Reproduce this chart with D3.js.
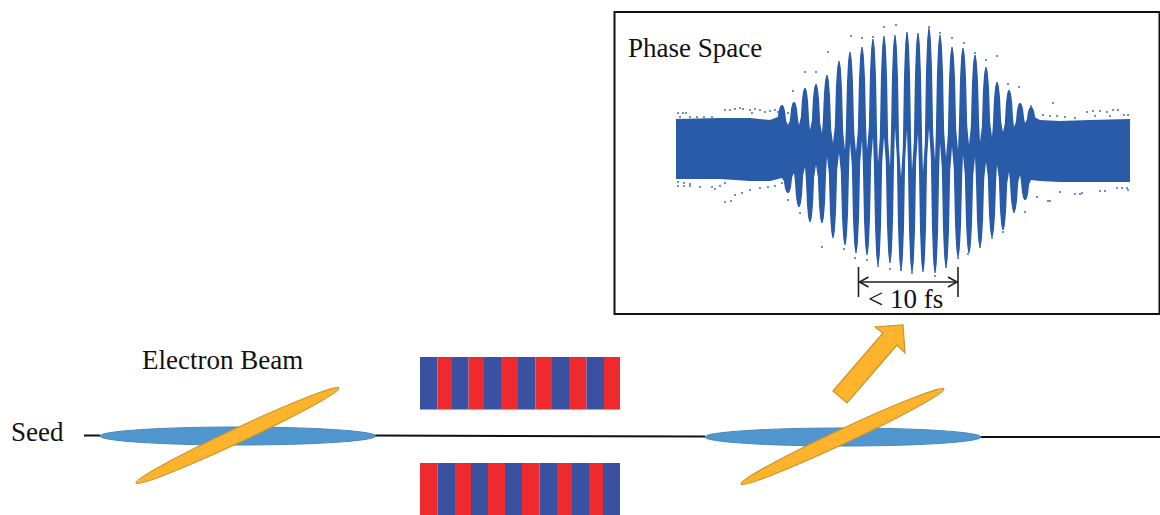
<!DOCTYPE html>
<html>
<head>
<meta charset="utf-8">
<script src="https://cdn.jsdelivr.net/npm/d3@7"></script>
<style>
  html, body { margin: 0; padding: 0; background: #fff; }
  svg { display: block; }
  text { font-family: "Liberation Serif", serif; font-size: 27px; fill: #111; }
</style>
</head>
<body>
<svg width="1160" height="515"></svg>
<script>
// phase space, time in fs, energy in arbitrary units
const upperTipT = [-12.1,-10.9,-9.8,-8.7,-7.6,-6.4,-5.3,-4.1,-3.0,-1.9,-0.8,0.4,1.5,2.6,3.7,4.9,6.0,7.2,8.3,9.4,10.6,11.7,12.8];
const upperTipE = [2.25,2.4,3.1,3.3,3.75,4.45,4.9,5.15,5.55,5.7,5.75,5.9,5.85,6.1,5.75,5.15,5.1,4.75,4.15,3.4,3.0,2.35,2.15];
const lowerTipT = [-11.5,-10.4,-9.3,-8.1,-7.0,-5.8,-4.7,-3.6,-2.5,-1.3,-0.2,0.9,2.0,3.2,4.3,5.5,6.6,7.7,8.9,10.0,11.1,12.2];
const lowerTipE = [-2.15,-2.85,-3.6,-3.65,-4.4,-4.75,-5.15,-5.25,-5.75,-5.65,-6.0,-6.1,-6.1,-6.15,-5.85,-5.35,-5.15,-4.85,-4.35,-4.0,-3.1,-2.5];
// gaps between the spikes, the top ones sit under lowerTipT, the bottom ones under upperTipT
const topGapE = [1.25,1.25,1.0,0.85,0.35,0,-0.1,0,-0.65,-0.85,-1.35,-1.0,-1.1,-0.5,-0.35,0,0.25,0.4,0.65,0.9,1.15,1.35];
const bottomGapE = [-1.4,-1.15,-0.85,-0.75,-0.35,-0.15,0.35,0.5,0.65,0.65,1.1,1.0,0.85,1.1,0.35,0.15,-0.25,-0.35,-0.6,-0.75,-1.1,-1.25,-1.5];
// flat part of the beam on both sides
const bandLeftT = [-22.7,-18.3,-15.3,-13.3];
const bandLeftTop = [1.55,1.6,1.6,1.5];
const bandLeftBottom = [-1.45,-1.45,-1.55,-1.55];
const bandRightT = [13.7,15.7,18.7,22.7];
const bandRightTop = [1.5,1.45,1.5,1.55];
const bandRightBottom = [-1.55,-1.6,-1.6,-1.6];
// stray particles outside of the solid shape
const strayDots = [
  [-11.0,2.95],[-9.8,3.9],[-8.7,3.9],[-7.5,4.9],[-5.2,5.7],[-4.1,5.6],[-3.0,5.65],[-1.9,6.15],[-0.7,6.25],[2.6,6.15],
  [3.7,5.85],[4.9,5.6],[6.1,5.35],[7.2,4.85],[8.3,4.5],[9.4,4.7],[10.5,3.3],[11.6,3.15],[12.8,2.2],[15.0,2.35],
  [-22.5,1.85],[-22,1.85],[-21.7,1.85],[-22.3,1.65],[-21.3,1.65],[-20.6,1.65],[-19.9,1.65],[-19.1,1.65],[-17.8,2],[-17.3,2],
  [-16.8,2.05],[-16.3,2.1],[-16,2.05],[-15.3,2],[-14.8,2.05],[-14.3,2],[-15.1,1.85],[-13.8,1.9],[-13.3,1.95],[-12.8,2],[-12.5,1.9],[-11.5,1.85],
  [14,1.75],[14.7,1.7],[15.4,1.7],[16.2,1.65],[17.2,1.6],[18.4,1.9],[19,1.95],[19.7,1.95],[20.4,1.9],[21,2],[21.5,2],[22.1,1.75],[22.5,1.75],[20.7,1.7],[19.2,1.7],
  [-22.5,-1.6],[-21.9,-1.65],[-21.3,-1.7],[-22.5,-1.8],[-21.9,-1.8],[-21.3,-1.8],[-20.3,-1.85],[-19.1,-1.85],[-18.8,-1.95],[-18.3,-1.8],[-17.8,-1.65],
  [-17.8,-2.6],[-17.2,-2.55],[-16.8,-2.25],[-16.1,-2.15],[-15.3,-2],[-14.3,-1.9],[-13.5,-1.85],[-12.8,-1.8],[-12.1,-1.65],[-11.5,-2.5],[-10.3,-3.15],
  [-8.1,-4.85],[-5.9,-4.95],[-4.8,-5.4],[-3.6,-5.5],[-2.5,-5.8],[-1.3,-5.95],[-0.2,-6],[0.9,-6.15],[3.2,-6.3],[4.3,-5.85],[5.5,-5.4],[6.5,-5.2],
  [7.7,-4.85],[8.9,-4.4],[10,-4.1],[11.1,-3.1],[12.2,-3.1],[13.4,-2.35],[14.5,-2.55],[14.7,-2.55],[15.7,-2.1],[17.2,-2.2],[17.7,-2.2],[17.9,-2.15],
  [19.7,-2.05],[20.2,-2.05],[21.4,-1.9],[21.9,-1.9],[22.4,-1.9],[22.5,-2]
];
const bracketT = [-4.45, 5.5];

// undulator stripes, edges along the beamline
const topMagnetEdges = [420,437.5,452,468.6,484,501,518,535.5,552,569,586.5,604,620];
const bottomMagnetEdges = [420,437.5,455,471,488,505,522,539.5,557,572,589,603,620];
const beamLineX = [[84,100],[375,705],[981,1160]];
const beamLineY = [[435.5,435.5],[435.5,436.5],[437,437]];
const electronX = [[100,375.5],[705,981]];
const electronY = [436,437];
const seedTails = [[136,483],[741,484]];
const seedHeads = [[339,388],[944,389]];
const arrowOutline = [[833,391],[883,333],[875,327],[903,325],[905,353],[897,345],[847,403]];

const svg = d3.select('svg');
const width = +svg.attr('width');
const height = +svg.attr('height');

const orange = '#fdb32b', orangeEdge = '#c9952f';
const blue = '#3a50a0', red = '#ee2a2e';

const xPage = d3.scaleLinear().domain([0, 1160]).range([0, width]);
const yPage = d3.scaleLinear().domain([0, 515]).range([0, height]);

// beam lines first so the ellipses cover the ends
beamLineX.forEach((xs, i) => {
    svg.append('line')
        .attr('x1', xPage(xs[0])).attr('x2', xPage(xs[1]))
        .attr('y1', yPage(beamLineY[i][0])).attr('y2', yPage(beamLineY[i][1]))
        .attr('stroke', '#111').attr('stroke-width', 2);
});

electronX.forEach((xs, i) => {
    svg.append('ellipse')
        .attr('cx', xPage((xs[0] + xs[1]) / 2))
        .attr('cy', yPage(electronY[i]))
        .attr('rx', xPage((xs[1] - xs[0]) / 2))
        .attr('ry', yPage(9))
        .attr('fill', '#5097cf')
        .attr('stroke', '#4a86b8')
        .attr('stroke-width', 1);
});

seedTails.forEach((tail, i) => {
    const head = seedHeads[i];
    const cx = xPage((tail[0] + head[0]) / 2);
    const cy = yPage((tail[1] + head[1]) / 2);
    const dx = xPage(head[0]) - xPage(tail[0]);
    const dy = yPage(head[1]) - yPage(tail[1]);
    svg.append('ellipse')
        .attr('cx', cx).attr('cy', cy)
        .attr('rx', Math.hypot(dx, dy) / 2)
        .attr('ry', 7.2)
        .attr('transform', `rotate(${Math.atan2(dy, dx) * 180 / Math.PI} ${cx} ${cy})`)
        .attr('fill', orange)
        .attr('stroke', orangeEdge)
        .attr('stroke-width', 1.2);
});

svg.append('polygon')
    .attr('points', arrowOutline.map(p => [xPage(p[0]), yPage(p[1])].join(',')).join(' '))
    .attr('fill', orange)
    .attr('stroke', orangeEdge)
    .attr('stroke-width', 1.2);

const drawMagnet = (edges, top, bottom, firstColor, secondColor) => {
    svg.append('g').selectAll('rect').data(d3.pairs(edges))
        .enter().append('rect')
        .attr('x', d => xPage(d[0]))
        .attr('width', d => xPage(d[1]) - xPage(d[0]))
        .attr('y', yPage(top))
        .attr('height', yPage(bottom) - yPage(top))
        .attr('fill', (d, i) => i % 2 === 0 ? firstColor : secondColor);
};
drawMagnet(topMagnetEdges, 357, 409.5, blue, red);
drawMagnet(bottomMagnetEdges, 463, 515, red, blue);

// inset
svg.append('rect')
    .attr('x', xPage(614.5)).attr('y', yPage(12))
    .attr('width', xPage(545)).attr('height', yPage(302))
    .attr('fill', '#fff')
    .attr('stroke', '#111')
    .attr('stroke-width', 2);

const xTime = d3.scaleLinear().domain([-22.7, 22.7]).range([xPage(676), xPage(1130)]);
const yEnergy = d3.scaleLinear().domain([-6, 6]).range([yPage(270), yPage(30)]);

// spike flank: [share of the way down to the gap, half width in fs]
const spikeFlank = [[0.8, 0.42], [0.3, 0.3], [0.08, 0.18], [0, 0.06]];

// one spike from the gap before it to the gap after it
const spikePoints = (t, tipE, gapBeforeE, gapAfterE) => {
    const rise = spikeFlank.map(([f, w]) => [t - w, tipE + f * (gapBeforeE - tipE)]);
    const fall = spikeFlank.slice().reverse().map(([f, w]) => [t + w, tipE + f * (gapAfterE - tipE)]);
    return rise.concat(fall);
};

let outline = bandLeftT.map((t, i) => [t, bandLeftTop[i]]);
upperTipT.forEach((t, i) => {
    const before = i > 0 ? topGapE[i - 1] : bandLeftTop[bandLeftTop.length - 1];
    const after = i < topGapE.length ? topGapE[i] : bandRightTop[0];
    outline = outline.concat(spikePoints(t, upperTipE[i], before, after));
    if (i < topGapE.length) outline.push([lowerTipT[i], topGapE[i]]);
});
bandRightT.forEach((t, i) => outline.push([t, bandRightTop[i]]));

let underside = bandLeftT.map((t, i) => [t, bandLeftBottom[i]]);
upperTipT.forEach((t, i) => {
    underside.push([t, bottomGapE[i]]);
    if (i < lowerTipT.length) {
        underside = underside.concat(spikePoints(lowerTipT[i], lowerTipE[i], bottomGapE[i], bottomGapE[i + 1]));
    }
});
bandRightT.forEach((t, i) => underside.push([t, bandRightBottom[i]]));

const spikeLine = d3.line().x(d => xTime(d[0])).y(d => yEnergy(d[1]));
svg.append('path')
    .attr('d', spikeLine(outline.concat(underside.reverse())) + 'Z')
    .attr('fill', '#2a5ba8');

svg.append('g').selectAll('circle').data(strayDots)
    .enter().append('circle')
    .attr('cx', d => xTime(d[0]))
    .attr('cy', d => yEnergy(d[1]))
    .attr('r', 0.9)
    .attr('fill', '#2a5ba8');

// < 10 fs bracket
const bx0 = xTime(bracketT[0]), bx1 = xTime(bracketT[1]);
const bracket = svg.append('g')
    .attr('fill', 'none').attr('stroke', '#222').attr('stroke-width', 1.6);
[bx0, bx1].forEach(x => {
    bracket.append('line').attr('x1', x).attr('x2', x).attr('y1', yPage(267)).attr('y2', yPage(297));
});
bracket.append('line').attr('x1', bx0).attr('x2', bx1).attr('y1', yPage(282)).attr('y2', yPage(282));
bracket.append('path').attr('d', `M${bx0 + 10},${yPage(277)}L${bx0 + 1},${yPage(282)}L${bx0 + 10},${yPage(287)}`);
bracket.append('path').attr('d', `M${bx1 - 10},${yPage(277)}L${bx1 - 1},${yPage(282)}L${bx1 - 10},${yPage(287)}`);

const labels = [
    ['Phase Space', 628, 57],
    ['< 10 fs', 868, 308],
    ['Electron Beam', 142, 369],
    ['Seed', 11, 441]
];
svg.append('g').selectAll('text').data(labels)
    .enter().append('text')
    .attr('x', d => xPage(d[1]))
    .attr('y', d => yPage(d[2]))
    .text(d => d[0]);
</script>
</body>
</html>
